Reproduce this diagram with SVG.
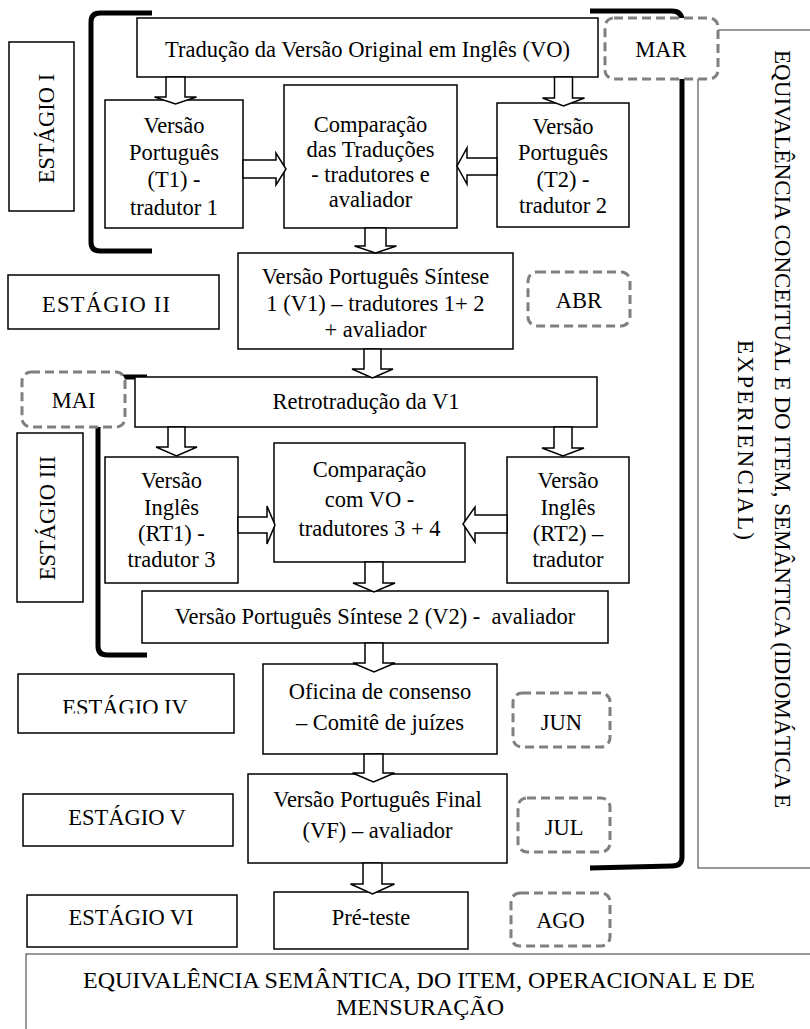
<svg xmlns="http://www.w3.org/2000/svg" width="810" height="1029" viewBox="0 0 810 1029">
  <defs>
    <style>
      .box{fill:#fff;stroke:#000;stroke-width:1.5}
      .frame{fill:#fff;stroke:#333;stroke-width:1}
      .month{fill:#fff;stroke:#808080;stroke-width:3;stroke-dasharray:9 5}
      .arr{fill:#fff;stroke:#000;stroke-width:1.5;stroke-linejoin:miter}
      .brace{fill:none;stroke:#000;stroke-width:5;stroke-linecap:butt}
      text{font-family:"Liberation Serif","Times New Roman",serif;font-size:22.5px;fill:#000;text-anchor:middle}
      .side{font-size:23px}
      .foot{font-size:24px}
    </style>
    <clipPath id="clipIV"><rect x="18" y="674" width="216" height="39.5"/></clipPath>
  </defs>

  <!-- outer frames -->
  <g id="frame-right">
    <rect class="frame" x="698" y="30" width="130" height="838"/>
    <text class="side" transform="translate(775,429) rotate(90)" textLength="758">EQUIVALÊNCIA CONCEITUAL E DO ITEM, SEMÂNTICA (IDIOMÁTICA E</text>
    <text class="side" transform="translate(738,440) rotate(90)" textLength="200">EXPERIENCIAL)</text>
  </g>
  <g id="frame-bottom">
    <rect class="frame" x="26" y="954" width="800" height="90"/>
    <text class="foot" x="419" y="988">EQUIVALÊNCIA SEMÂNTICA, DO ITEM, OPERACIONAL E DE</text>
    <text class="foot" x="420" y="1015">MENSURAÇÃO</text>
  </g>

  <!-- brackets -->
  <g id="brackets">
    <path class="brace" d="M152,13 L100,13 Q91,13 91,22 L91,242 Q91,251 100,251 L152,251"/>
    <path class="brace" d="M147,377 L107,377 Q98,377 98,386 L98,646 Q98,655 107,655 L147,655"/>
    <path class="brace" d="M590,11 L672,11 Q682,11 682,21 L682,857 Q682,866 672,866 L590,868"/>
  </g>

  <!-- stage labels -->
  <g id="stage-1"><rect class="box" x="9" y="42" width="65" height="169"/>
    <text transform="translate(54,128.5) rotate(-90)">ESTÁGIO I</text></g>
  <g id="stage-2"><rect class="box" x="8" y="275" width="211" height="54"/>
    <text x="106" y="312" textLength="128">ESTÁGIO II</text></g>
  <g id="stage-3"><rect class="box" x="17" y="433" width="66" height="169"/>
    <text transform="translate(55,518) rotate(-90)">ESTÁGIO III</text></g>
  <g id="stage-4"><rect class="box" x="18" y="674" width="216" height="59"/>
    <text x="125" y="715" clip-path="url(#clipIV)">ESTÁGIO IV</text></g>
  <g id="stage-5"><rect class="box" x="23" y="794" width="210" height="52"/>
    <text x="127" y="825">ESTÁGIO V</text></g>
  <g id="stage-6"><rect class="box" x="27" y="895" width="210" height="52"/>
    <text x="131" y="925">ESTÁGIO VI</text></g>

  <!-- process steps -->
  <g id="translation-vo"><rect class="box" x="137" y="18" width="461" height="59"/>
    <text x="367.5" y="57">Tradução da Versão Original em Inglês (VO)</text></g>
  <g id="pt-t1"><rect class="box" x="105" y="100" width="138" height="128"/>
    <text x="174" y="133">Versão</text><text x="174" y="160">Português</text>
    <text x="174" y="187">(T1) -</text><text x="174" y="215">tradutor 1</text></g>
  <g id="compare-translations"><rect class="box" x="284" y="85" width="173" height="143"/>
    <text x="370.5" y="132">Comparação</text><text x="370.5" y="157">das Traduções</text>
    <text x="370.5" y="182">- tradutores e</text><text x="370.5" y="207">avaliador</text></g>
  <g id="pt-t2"><rect class="box" x="497" y="103" width="132" height="124"/>
    <text x="563" y="134">Versão</text><text x="563" y="160">Português</text>
    <text x="563" y="187">(T2) -</text><text x="563" y="213">tradutor 2</text></g>
  <g id="synthesis-v1"><rect class="box" x="238" y="253" width="275" height="96"/>
    <text x="375.5" y="284">Versão Português Síntese</text>
    <text x="375.5" y="311">1 (V1) – tradutores 1+ 2</text>
    <text x="375.5" y="337">+ avaliador</text></g>
  <g id="back-translation"><rect class="box" x="135" y="377" width="462" height="50"/>
    <text x="366" y="409">Retrotradução da V1</text></g>
  <g id="en-rt1"><rect class="box" x="105" y="457" width="133" height="126"/>
    <text x="171.5" y="488">Versão</text><text x="171.5" y="515">Inglês</text>
    <text x="171.5" y="541">(RT1) -</text><text x="171.5" y="567">tradutor 3</text></g>
  <g id="compare-vo"><rect class="box" x="274" y="443" width="191" height="119"/>
    <text x="369.5" y="477">Comparação</text><text x="369.5" y="507">com VO -</text>
    <text x="369.5" y="536">tradutores 3 + 4</text></g>
  <g id="en-rt2"><rect class="box" x="507" y="457" width="122" height="126"/>
    <text x="568" y="488">Versão</text><text x="568" y="515">Inglês</text>
    <text x="568" y="541">(RT2) –</text><text x="568" y="567">tradutor</text></g>
  <g id="synthesis-v2"><rect class="box" x="142" y="591" width="466" height="52"/>
    <text x="375" y="624">Versão Português Síntese 2 (V2) -&#160; avaliador</text></g>
  <g id="consensus"><rect class="box" x="263" y="664" width="234" height="90"/>
    <text x="380" y="699">Oficina de consenso</text>
    <text x="380" y="730">– Comitê de juízes</text></g>
  <g id="final-vf"><rect class="box" x="248" y="774" width="259" height="89"/>
    <text x="377.5" y="807">Versão Português Final</text>
    <text x="377.5" y="838">(VF) – avaliador</text></g>
  <g id="pretest"><rect class="box" x="274" y="892" width="194" height="57"/>
    <text x="371" y="925">Pré-teste</text></g>

  <!-- connectors: block arrows -->
  <g id="connectors">
    <path class="arr" d="M166,77 H185 V97 H196.5 L175.5,104 L154.5,97 H166 Z"/>
    <path class="arr" d="M554.5,77 H572.5 V98 H584.5 L563.5,106 L542.5,98 H554.5 Z"/>
    <path class="arr" d="M243,160 H276 V153 L286,169 L276,185 V178 H243 Z"/>
    <path class="arr" d="M497,158 H467 V148 L457,166 L467,184 V175 H497 Z"/>
    <path class="arr" d="M365,228 H386 V246 H396.5 L375.5,253 L354.5,246 H365 Z"/>
    <path class="arr" d="M364,349 H381 V369 H393 L372.5,378 L352,369 H364 Z"/>
    <path class="arr" d="M168,427 H185 V447 H197 L176.5,456 L156,447 H168 Z"/>
    <path class="arr" d="M554,427 H572 V448 H584 L563,456 L542,448 H554 Z"/>
    <path class="arr" d="M238,517 H267 V506 L275,525 L267,544 V533 H238 Z"/>
    <path class="arr" d="M507,515 H475 V507 L463,524 L475,542 V533 H507 Z"/>
    <path class="arr" d="M365,562 H383 V583 H395 L374,592 L353,583 H365 Z"/>
    <path class="arr" d="M365,643 H383 V663 H395 L374,672 L353,663 H365 Z"/>
    <path class="arr" d="M364,754 H383 V773 H394.5 L373.5,782 L352.5,773 H364 Z"/>
    <path class="arr" d="M363,863 H382 V884 H394.5 L372.5,894 L350.5,884 H363 Z"/>
  </g>

  <!-- month markers -->
  <g id="month-mar"><rect class="month" x="605" y="18" width="113" height="61" rx="9"/>
    <text x="661" y="57">MAR</text></g>
  <g id="month-abr"><rect class="month" x="528" y="272" width="102" height="54" rx="9"/>
    <text x="579" y="308">ABR</text></g>
  <g id="month-mai"><rect class="month" x="22" y="372" width="103" height="55" rx="9"/>
    <text x="73.5" y="408">MAI</text></g>
  <g id="month-jun"><rect class="month" x="513" y="693" width="97" height="54" rx="9"/>
    <text x="561.5" y="730">JUN</text></g>
  <g id="month-jul"><rect class="month" x="518" y="798" width="92" height="54" rx="9"/>
    <text x="564" y="835">JUL</text></g>
  <g id="month-ago"><rect class="month" x="511" y="893" width="99" height="53" rx="9"/>
    <text x="560.5" y="928">AGO</text></g>
</svg>
